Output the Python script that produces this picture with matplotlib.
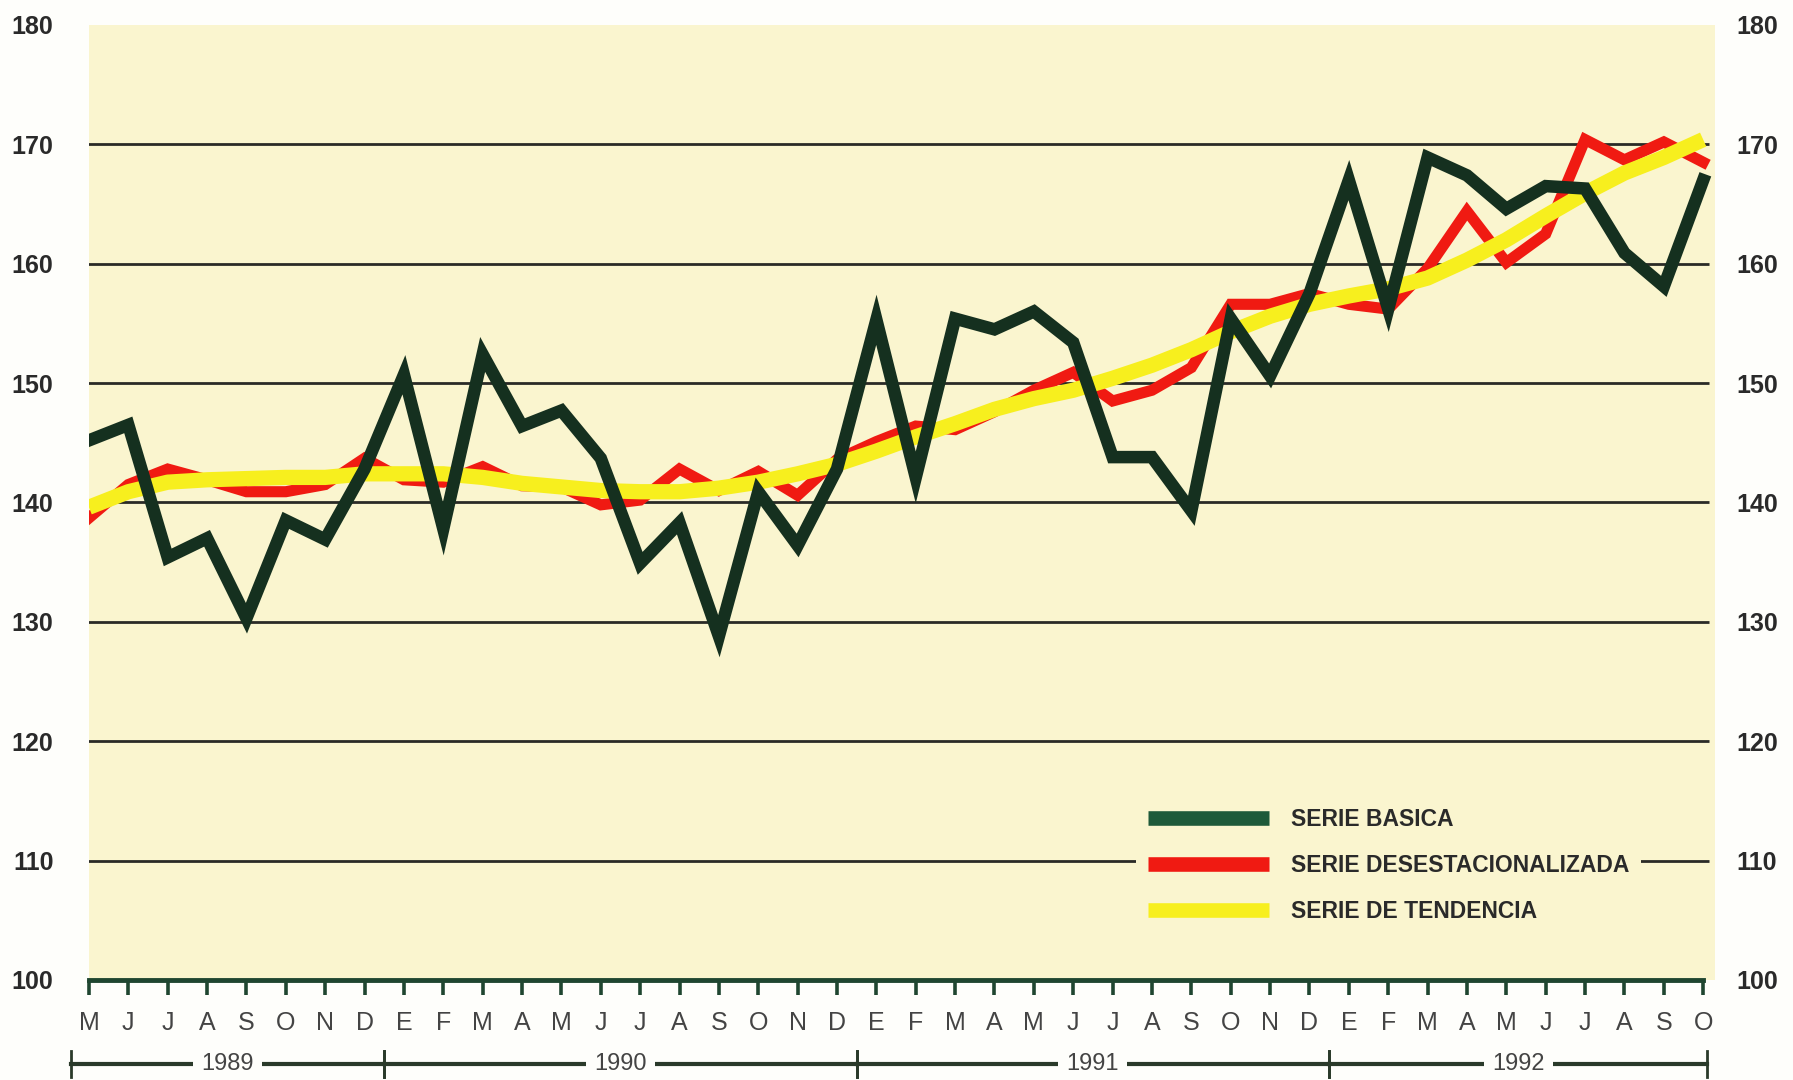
import numpy as np
import matplotlib
matplotlib.use("Agg")
import matplotlib.pyplot as plt
import matplotlib.transforms as mtransforms

plt.rcParams['font.family'] = ['Liberation Sans Narrow', 'Liberation Sans', 'DejaVu Sans']

# meses de mayo 1989 a octubre 1992
months = ["M", "J", "J", "A", "S", "O", "N", "D",
          "E", "F", "M", "A", "M", "J", "J", "A", "S", "O", "N", "D",
          "E", "F", "M", "A", "M", "J", "J", "A", "S", "O", "N", "D",
          "E", "F", "M", "A", "M", "J", "J", "A", "S", "O"]
years = ["1989", "1990", "1991", "1992"]
year_start = [-0.45, 7.5, 19.5, 31.5]
year_end = [7.5, 19.5, 31.5, 41.1]

basica = [145.2, 146.5, 135.4, 137.0, 130.3, 138.5, 136.9, 142.8,
          150.7, 137.8, 152.4, 146.4, 147.7, 143.7, 134.9, 138.3, 128.8, 140.9, 136.4, 142.8,
          155.3, 142.1, 155.4, 154.5, 156.0, 153.4, 143.8, 143.8, 139.3, 155.4, 150.6, 157.5,
          167.0, 156.2, 168.9, 167.4, 164.6, 166.5, 166.3, 160.9, 158.1, 167.0]
desest = [138.7, 141.5, 142.8, 141.9, 140.9, 140.9, 141.5, 143.7,
          141.9, 141.7, 143.0, 141.4, 141.3, 139.8, 140.2, 142.8, 141.0, 142.6, 140.6, 143.6,
          145.1, 146.4, 146.1, 147.6, 149.4, 150.9, 148.5, 149.4, 151.3, 156.6, 156.6, 157.5,
          156.6, 156.2, 159.6, 164.4, 160.1, 162.5, 170.4, 168.7, 170.2, 168.5]
tendencia = [139.6, 140.9, 141.7, 141.9, 142.0, 142.1, 142.1, 142.4,
             142.4, 142.4, 142.1, 141.6, 141.3, 141.0, 140.9, 140.9, 141.2, 141.7, 142.4, 143.2,
             144.3, 145.5, 146.6, 147.8, 148.7, 149.4, 150.4, 151.5, 152.8, 154.3, 155.6, 156.6,
             157.3, 157.9, 158.8, 160.3, 162.0, 164.0, 165.9, 167.6, 168.9, 170.4]
labels = ["SERIE BASICA", "SERIE DESESTACIONALIZADA", "SERIE DE TENDENCIA"]

panel = "#faf5cf"
dark = "#15301f"
bg = "#fefefb"
x = np.arange(len(months))

fig = plt.figure(figsize=(17.93, 10.80), dpi=100, facecolor=bg)
ax = fig.add_axes([0.0496, 0.0926, 0.9069, 0.8843])
ax.set_facecolor(panel)

ax.set_xlim(0, 41.3)
ax.set_ylim(100, 180)

grid_vals = [110, 120, 130, 140, 150, 160, 170]
ax.hlines(grid_vals, -0.1, 41.15, colors="#2a2a26", lw=2.0, zorder=1)

ax.plot(x, desest, color="#f01a12", lw=8, solid_joinstyle="miter", zorder=3, label=labels[1])
ax.plot(x, tendencia, color="#f7ef1e", lw=11, solid_joinstyle="round",
        solid_capstyle="butt", zorder=4, label=labels[2])
ax.plot(x, basica, color=dark, lw=9, solid_joinstyle="miter", zorder=5, label=labels[0])

for s in ["top", "left", "right"]:
    ax.spines[s].set_visible(False)
ax.spines["bottom"].set_color("#1f4630")
ax.spines["bottom"].set_linewidth(3.5)
ax.spines["bottom"].set_bounds(0, 41)

ax.set_yticks(range(100, 181, 10))
ax.tick_params(axis="y", left=False, right=False, labelleft=True, labelright=True,
               labelsize=18, labelcolor="#2a2a2a", pad=22)
offset = mtransforms.ScaledTranslation(-10 / 72, 0, fig.dpi_scale_trans)
for tk in ax.yaxis.get_major_ticks():
    tk.label1.set_fontweight("bold")
    tk.label2.set_fontweight("bold")
    tk.label2.set_transform(tk.label2.get_transform() + offset)

ax.set_xticks(x)
ax.set_xticklabels(months, fontsize=18, color="#444444")
ax.tick_params(axis="x", direction="out", length=11, width=2.6, color="#1f4630", pad=11)

# corchetes de los años
trans = mtransforms.blended_transform_factory(ax.transData, ax.transAxes)
yb = -0.088
for yr, a, b in zip(years, year_start, year_end):
    ax.plot([a, b], [yb, yb], color="#2a3a2a", lw=3, transform=trans, clip_on=False)
    ax.plot([a, a], [yb - 0.014, yb + 0.014], color="#2a3a2a", lw=2, transform=trans, clip_on=False)
    ax.plot([b, b], [yb - 0.014, yb + 0.014], color="#2a3a2a", lw=2, transform=trans, clip_on=False)
    ax.text((a + b) / 2, yb, yr, transform=trans, ha="center", va="center", fontsize=17,
            color="#444444", bbox=dict(facecolor=bg, edgecolor="none", pad=6))

h, l = ax.get_legend_handles_labels()
order = [2, 0, 1]
leg = ax.legend([h[i] for i in order], [l[i] for i in order], loc="lower left",
                bbox_to_anchor=(0.637, 0.036), frameon=True, facecolor=panel, edgecolor="none",
                framealpha=1, fancybox=False, handlelength=5.3, handleheight=0.7,
                handletextpad=0.95, labelspacing=1.0, borderpad=0.5,
                prop=dict(size=16.5, weight="bold"))
for ln in leg.get_lines():
    ln.set_linewidth(10.5)
    ln.set_solid_capstyle("butt")
leg.get_lines()[0].set_color("#1e5a3a")
for t in leg.get_texts():
    t.set_color("#2a2a2a")
leg.set_zorder(6)

fig.savefig("out.png", dpi=100, facecolor=fig.get_facecolor())
